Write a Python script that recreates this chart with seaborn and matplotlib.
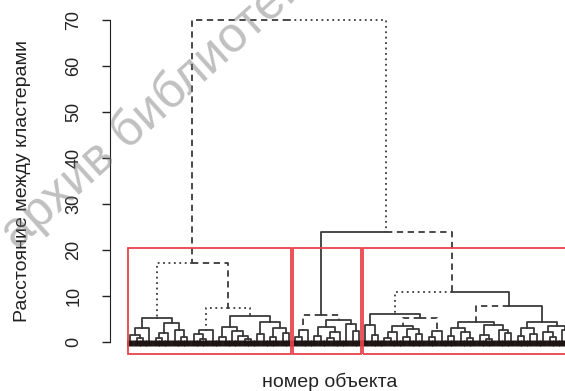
import pandas as pd
import matplotlib.pyplot as plt
import matplotlib.patches as mpatches
import seaborn as sns

o = None  # a leaf (one object)

# merge heights, nested as [height, left, right]
a1 = [5.2, [3.0, [1.6, o, [0.8, o, o]], o],
           [4.2, [2.0, [0.9, o, o], o], [2.6, o, [1.2, o, o]]]]
a2 = [7.4, [2.6, [1.8, o, [0.7, o, o]], o],
           [5.6, [3.2, [1.0, o, o], [2.4, o, [1.3, o, [0.6, o, o]]]],
                 [4.4, [1.7, o, o], [3.1, [1.2, o, o], [2.0, o, o]]]]]
b = [5.9, [2.7, [1.1, o, o], o],
          [4.8, [3.3, [1.4, o, o], [2.2, [0.9, o, o], o]], [3.9, o, [2.5, o, o]]]]
c1 = [6.1, [3.6, o, [1.5, o, o]],
           [5.2, [3.4, [2.1, [0.8, o, o], o], [2.9, [1.2, o, o], [1.8, o, o]]],
                 [2.3, [1.0, o, o], o]]]
c2 = [7.8, [4.3, [3.0, [1.4, o, o], [2.2, o, [0.9, o, o]]],
                 [3.6, [1.6, o, [0.7, o, o]], [2.6, o, [1.9, o, o]]]],
           [4.3, [3.0, [1.3, o, o], [1.8, o, o]],
                 [3.4, [2.2, o, [1.0, o, o]], [2.7, o, o]]]]

h_a, h_c, h_bc, h_root = 17.2, 10.9, 23.9, 70.0
tree = [h_root, [h_a, a1, a2], [h_bc, b, [h_c, c1, c2]]]
n_groups = 3

y_ticks = [0, 10, 20, 30, 40, 50, 60, 70]
x_title = "номер объекта"
y_title = "Расстояние между кластерами"
watermark = "архив библиотеки"

# line style of the edge going up from a node (path: 0 = left, 1 = right)
edge_style = {
    "0": "dash", "1": "dot",
    "00": "dot", "01": "dash", "010": "dot", "011": "dot",
    "10": "solid", "11": "dash", "100": "dash", "101": "dash",
    "110": "dot", "111": "solid", "11010": "dash", "11011": "dash",
    "1110": "dash",
}

# ---- layout of the dendrogram ----
leaf_x = []
rows = []
nodes = []  # (height, parent height, first leaf, last leaf)


def layout(node, path, parent_h):
    if node is None:
        x = len(leaf_x)
        leaf_x.append(x)
        return x, 0.0, x, x
    h, left, right = node
    xl, hl, f0, _ = layout(left, path + "0", h)
    xr, hr, _, l1 = layout(right, path + "1", h)
    x = (xl + xr) / 2
    for cx, ch, p in ((xl, hl, path + "0"), (xr, hr, path + "1")):
        ls = edge_style.get(p, "solid")
        for px, py in ((x, h), (cx, h), (cx, ch)):
            rows.append({"seg": p, "x": px, "h": py, "ls": ls})
    nodes.append((h, parent_h, f0, l1))
    return x, h, f0, l1


layout(tree, "", None)
df = pd.DataFrame(rows)

heights = sorted([n[0] for n in nodes], reverse=True)
cut = (heights[n_groups - 2] + heights[n_groups - 1]) / 2
groups = [(f, l) for h, ph, f, l in nodes if h < cut and ph is not None and ph > cut]

# ---- plot ----
sns.set_style("white")
plt.rcParams["font.family"] = ["Liberation Sans", "DejaVu Sans"]

fig = plt.figure(figsize=(5.65, 3.91), dpi=100)
ax = fig.add_axes([0.1947, 0.0946, 0.8319, 0.8836])

sns.lineplot(data=df, x="x", y="h", units="seg", style="ls",
             dashes={"solid": "", "dash": (3.5, 2.5), "dot": (1, 2)},
             estimator=None, sort=False, color="#3a3a3a", linewidth=1.3,
             legend=False, ax=ax)

# leaf ends: dense dark band along zero
ax.vlines(leaf_x, -0.8, 0.4, colors="#1e1414", linewidth=5)

ymin = -2.6
for f, l in groups:
    ax.add_patch(mpatches.Rectangle((f - 0.34, ymin), (l + 0.33) - (f - 0.34), cut - ymin,
                                    fill=False, edgecolor="#e8434a", linewidth=1.3,
                                    clip_on=False, zorder=5))

ax.set_xlim(-3.18, 70.8)
ax.set_ylim(ymin, 72.5)
ax.set_xticks([])
ax.set_yticks(y_ticks)
ax.set_yticklabels([str(t) for t in y_ticks], rotation=90, va="center")
ax.tick_params(axis="y", left=True, length=6, width=1, pad=14, labelsize=13,
               colors="#222222")

for side in ["top", "right", "bottom"]:
    ax.spines[side].set_visible(False)
ax.spines["left"].set_bounds(0, 70)
ax.spines["left"].set_color("#222222")

ax.set_xlabel(x_title, fontsize=14, color="#222222")
ax.xaxis.set_label_coords(0.468, -0.055)
ax.set_ylabel(y_title, fontsize=14, color="#222222")
ax.yaxis.set_label_coords(-0.168, 0.5)

fig.text(0.03, 0.36, watermark, rotation=42, rotation_mode="anchor",
         ha="left", va="baseline", fontsize=36, color="0.45", alpha=0.45)

fig.savefig("out.png", dpi=100)
